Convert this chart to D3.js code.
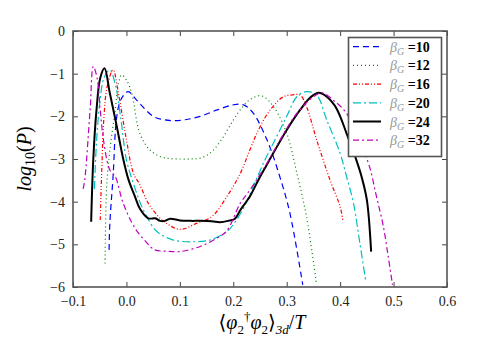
<!DOCTYPE html>
<html><head><meta charset="utf-8">
<script src="https://cdn.jsdelivr.net/npm/d3@7"></script>
<style>body{margin:0;background:#fff}svg{display:block}</style>
</head><body>
<script>
const xTicks = [-0.1, 0.0, 0.1, 0.2, 0.3, 0.4, 0.5, 0.6];
const xTickLabels = ["\u22120.1","0.0","0.1","0.2","0.3","0.4","0.5","0.6"];
const yTicks = [0,-1,-2,-3,-4,-5,-6];
const yTickLabels = ["0","\u22121","\u22122","\u22123","\u22124","\u22125","\u22126"];
const betas = ["10","12","16","20","24","32"];

const x10 = [-0.0325,-0.031,-0.025,-0.018,-0.01,0.003,0.019,0.05,0.07,0.088,0.11,0.138,0.17,0.2,0.219,0.237,0.263,0.287,0.306,0.33];
const y10 = [-5.13,-4.5,-3.41,-2.0,-1.6,-1.42,-1.62,-2.0,-2.08,-2.10,-2.08,-2.0,-1.85,-1.73,-1.73,-1.92,-2.55,-3.41,-4.27,-5.95];

const x12 = [-0.04,-0.037,-0.031,-0.021,-0.015,-0.009,0.0,0.01,0.025,0.044,0.063,0.08,0.1,0.12,0.138,0.156,0.175,0.2,0.213,0.232,0.253,0.275,0.3,0.319,0.337,0.356];
const y12 = [-5.45,-3.65,-2.79,-1.85,-1.23,-1.03,-1.15,-1.46,-2.4,-2.79,-2.94,-2.99,-3.0,-3.0,-2.98,-2.87,-2.6,-2.09,-1.85,-1.6,-1.52,-1.77,-2.4,-3.33,-4.35,-5.95];

const x16 = [-0.049,-0.046,-0.042,-0.036,-0.025,-0.015,0.0,0.013,0.025,0.041,0.06,0.075,0.1,0.131,0.16,0.188,0.213,0.231,0.247,0.269,0.294,0.31,0.325,0.337,0.356,0.381,0.4,0.405];
const y16 = [-4.43,-3.2,-2.0,-1.3,-0.91,-1.46,-2.55,-3.33,-3.6,-4.04,-4.35,-4.51,-4.65,-4.51,-4.35,-3.88,-3.34,-2.79,-2.32,-1.85,-1.54,-1.5,-1.5,-1.77,-2.55,-3.49,-4.12,-4.43];

const x20 = [-0.06,-0.056,-0.05,-0.042,-0.031,-0.02,-0.01,0.0,0.013,0.025,0.038,0.057,0.088,0.125,0.156,0.188,0.206,0.225,0.244,0.26,0.275,0.30,0.319,0.337,0.356,0.375,0.40,0.412,0.425,0.437,0.448];
const y20 = [-3.7,-2.6,-1.7,-1.1,-0.91,-1.3,-2.1,-3.02,-3.57,-4.0,-4.35,-4.70,-4.90,-4.94,-4.90,-4.70,-4.43,-4.0,-3.45,-3.0,-2.63,-2.0,-1.54,-1.42,-1.5,-2.09,-2.87,-3.41,-4.04,-4.98,-5.87];

const x24 = [-0.066,-0.062,-0.056,-0.049,-0.041,-0.031,-0.018,-0.006,0.004,0.016,0.025,0.041,0.054,0.063,0.072,0.082,0.1,0.12,0.138,0.16,0.175,0.19,0.203,0.213,0.231,0.247,0.262,0.275,0.3,0.325,0.345,0.36,0.375,0.39,0.40,0.412,0.428,0.44,0.45,0.458];
const y24 = [-4.47,-3.0,-1.85,-1.1,-0.875,-1.46,-2.24,-3.0,-3.49,-3.88,-4.16,-4.39,-4.39,-4.45,-4.45,-4.40,-4.44,-4.45,-4.45,-4.46,-4.48,-4.45,-4.40,-4.2,-3.88,-3.49,-3.15,-2.86,-2.32,-1.85,-1.55,-1.45,-1.54,-1.75,-2.0,-2.4,-2.94,-3.41,-3.96,-5.17];

const x32 = [-0.081,-0.078,-0.068,-0.062,-0.055,-0.049,-0.043,-0.031,-0.021,-0.006,0.016,0.035,0.053,0.075,0.1,0.138,0.17,0.188,0.213,0.231,0.263,0.29,0.319,0.35,0.366,0.387,0.412,0.432,0.453,0.468,0.481,0.49,0.498];
const y32 = [-3.7,-3.49,-1.85,-0.83,-1.1,-1.85,-2.55,-3.26,-3.41,-4.04,-4.62,-4.92,-5.13,-5.16,-5.17,-5.05,-4.85,-4.68,-4.04,-3.73,-3.10,-2.5,-1.93,-1.54,-1.45,-1.62,-1.93,-2.5,-3.1,-3.88,-4.59,-5.29,-5.95];

const seriesX = [x10,x12,x16,x20,x24,x32];
const seriesY = [y10,y12,y16,y20,y24,y32];
const colors = ["#0000ff","#008000","#ff0000","#00bfbf","#000000","#bf00bf"];
const dashes = ["6,4","1,3","4,2,1,2,1,2","8,3,2,3","none","6,3,2,3"];
const widths = [1.2,1.2,1.2,1.2,2,1.2];

const W=480,H=360, L=73, R=447, T=31, B=287;
const svg = d3.select("body").append("svg").attr("width",W).attr("height",H);
const xs = d3.scaleLinear().domain([-0.1,0.6]).range([L,R]);
const ys = d3.scaleLinear().domain([-6,0]).range([B,T]);
const font = "'Liberation Serif','DejaVu Serif',serif";

svg.append("clipPath").attr("id","c").append("rect").attr("x",L).attr("y",T).attr("width",R-L).attr("height",B-T);
const line = d3.line().x(d=>xs(d[0])).y(d=>ys(d[1])).curve(d3.curveCatmullRom.alpha(0.5));
const g = svg.append("g").attr("clip-path","url(#c)");
seriesX.forEach((xa,i)=>{
  const pts = xa.map((v,j)=>[v,seriesY[i][j]]);
  g.append("path").attr("d",line(pts)).attr("fill","none").attr("stroke",colors[i])
   .attr("stroke-width",widths[i]).attr("stroke-dasharray",dashes[i]==="none"?null:dashes[i]);
});

const ax = svg.append("g").attr("transform",`translate(0,${B})`).call(d3.axisBottom(xs).tickValues(xTicks).tickFormat((d,i)=>xTickLabels[i]).tickSizeInner(-5).tickSizeOuter(0).tickPadding(9));
const axT = svg.append("g").attr("transform",`translate(0,${T})`).call(d3.axisTop(xs).tickValues(xTicks).tickFormat("").tickSizeInner(-5).tickSizeOuter(0));
const ay = svg.append("g").attr("transform",`translate(${L},0)`).call(d3.axisLeft(ys).tickValues(yTicks).tickFormat((d,i)=>yTickLabels[i]).tickSizeInner(-5).tickSizeOuter(0).tickPadding(8));
const ayR = svg.append("g").attr("transform",`translate(${R},0)`).call(d3.axisRight(ys).tickValues(yTicks).tickFormat("").tickSizeInner(-5).tickSizeOuter(0));
[ax,axT,ay,ayR].forEach(a=>{
  a.select(".domain").remove();
  a.selectAll("line").attr("stroke","#444").attr("stroke-width",1);
  a.selectAll("text").attr("font-family",font).attr("font-size",14).attr("fill","#222");
});
svg.append("rect").attr("x",L).attr("y",T).attr("width",R-L).attr("height",B-T).attr("fill","none").attr("stroke","#555").attr("stroke-width",1.6);

const lg = svg.append("g");
lg.append("rect").attr("x",348.5).attr("y",37.5).attr("width",93).attr("height",119).attr("fill","#fff").attr("stroke","#555").attr("stroke-width",1.6);
betas.forEach((b,i)=>{
  const yy = 46.7 + i*18.7;
  lg.append("line").attr("x1",353).attr("x2",381).attr("y1",yy).attr("y2",yy).attr("stroke",colors[i])
    .attr("stroke-width",widths[i]).attr("stroke-dasharray",dashes[i]==="none"?null:dashes[i]);
  const t = lg.append("text").attr("x",390).attr("y",yy+5).attr("font-family",font).attr("font-size",14);
  t.append("tspan").text("\u03B2").attr("font-style","italic").attr("fill","#999");
  t.append("tspan").text("G").attr("font-style","italic").attr("font-size",10).attr("dy",3).attr("fill","#999");
  t.append("tspan").text(" =" + b).attr("dy",-3).attr("font-weight","bold").attr("fill","#000");
});

const yl = svg.append("text").attr("transform","translate(31,159) rotate(-90)").attr("text-anchor","middle")
  .attr("font-family",font).attr("font-size",20).attr("font-style","italic");
yl.append("tspan").text("log");
yl.append("tspan").text("10").attr("font-size",14).attr("dy",4).attr("font-style","normal");
yl.append("tspan").text("(").attr("dy",-4).attr("font-style","normal");
yl.append("tspan").text("P");
yl.append("tspan").text(")").attr("font-style","normal");

const xl = svg.append("text").attr("x",262).attr("y",329).attr("text-anchor","middle")
  .attr("font-family",font).attr("font-size",20);
xl.append("tspan").text("\u27E8");
xl.append("tspan").text("\u03C6").attr("font-style","italic");
xl.append("tspan").text("2").attr("font-size",13).attr("dy",5);
xl.append("tspan").text("\u2020").attr("font-size",13).attr("dy",-13);
xl.append("tspan").text("\u03C6").attr("font-style","italic").attr("dy",8);
xl.append("tspan").text("2").attr("font-size",13).attr("dy",5);
xl.append("tspan").text("\u27E9").attr("dy",-5);
xl.append("tspan").text("3d").attr("font-size",13).attr("font-style","italic").attr("dy",5);
xl.append("tspan").text("/").attr("dy",-5);
xl.append("tspan").text("T").attr("font-style","italic");
</script>
</body></html>
